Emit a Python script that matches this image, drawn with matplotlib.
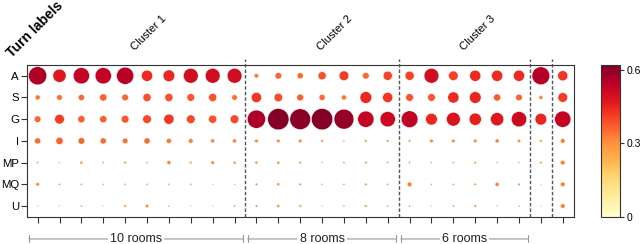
import numpy as np
import matplotlib
matplotlib.use("Agg")
import matplotlib.pyplot as plt
import matplotlib.colors as mcolors
import matplotlib.transforms as mtransforms
from matplotlib.cm import ScalarMappable

# turn label shares per room (rows), 25 rooms (columns)
rows = ["A", "S", "G", "I", "MP", "MQ", "U"]
A = [0.44, 0.23, 0.35, 0.35, 0.39, 0.165, 0.18, 0.29, 0.29, 0.29,
     0.028, 0.057, 0.049, 0.087, 0.123, 0.057, 0.11,
     0.11, 0.29, 0.12, 0.165, 0.165, 0.165, 0.42, 0.136]
S = [0.034, 0.041, 0.049, 0.067, 0.057, 0.087, 0.087, 0.077, 0.087, 0.041,
     0.136, 0.094, 0.061, 0.049, 0.034, 0.18, 0.136,
     0.077, 0.077, 0.165, 0.18, 0.067, 0.057, 0.022, 0.123]
G = [0.057, 0.123, 0.067, 0.067, 0.077, 0.098, 0.136, 0.098, 0.087, 0.098,
     0.44, 0.6, 0.57, 0.6, 0.52, 0.35, 0.31,
     0.37, 0.18, 0.25, 0.196, 0.23, 0.31, 0.18, 0.35]
I = [0.049, 0.067, 0.057, 0.049, 0.041, 0.049, 0.034, 0.028, 0.022, 0.022,
     0.017, 0.017, 0.017, 0.0085, 0.0054, 0.0085, 0.0085,
     0.0085, 0.017, 0.017, 0.017, 0.022, 0.015, 0.0085, 0.028]
MP = [0.0054, 0.003, 0.012, 0.0054, 0.0085, 0.0054, 0.022, 0.0085, 0.017, 0.012,
      0.012, 0.012, 0.0085, 0.0044, 0.0054, 0.0085, 0.0054,
      0.0054, 0.0044, 0.0054, 0.0085, 0.0044, 0.0044, 0.0085, 0.028]
MQ = [0.017, 0.0054, 0.0054, 0.0044, 0.0054, 0.0054, 0.0054, 0.0054, 0.003, 0.003,
      0.0085, 0.012, 0.0085, 0.0044, 0.0054, 0.0085, 0.0054,
      0.028, 0.0044, 0.0054, 0.0085, 0.022, 0.0085, 0.003, 0.028]
U = [0.003, 0.003, 0.0054, 0.003, 0.0085, 0.017, 0.0054, 0.003, 0.003, 0.0054,
     0.0085, 0.012, 0.0085, 0.003, 0.0054, 0.0085, 0.0054,
     0.0054, 0.003, 0.0054, 0.0085, 0.0044, 0.0054, 0.003, 0.028]

clusters = ["Cluster 1", "Cluster 2", "Cluster 3"]
cluster_cols = [(0, 9), (10, 16), (17, 22)]
room_labels = ["10 rooms", "8 rooms", "6 rooms"]
dividers = [9.5, 16.5, 22.5, 23.5]

VMAX = 0.62

plt.rcParams["font.family"] = ["Liberation Sans", "DejaVu Sans"]
plt.rcParams["font.size"] = 8.2

values = np.array([A, S, G, I, MP, MQ, U])
n_rows, n_cols = values.shape
xx, yy = np.meshgrid(np.arange(n_cols), np.arange(n_rows))

fig = plt.figure(figsize=(6.4, 2.44), dpi=100)
ax = fig.add_axes([0.0417, 0.111, 0.8547, 0.623])
cax = fig.add_axes([0.939, 0.111, 0.030, 0.623])

# dots use the upper part of the colormap so that small shares stay orange
base = plt.get_cmap("YlOrRd")
dot_cmap = mcolors.LinearSegmentedColormap.from_list("dots", base(np.linspace(0.4, 1.0, 256)))
dot_norm = mcolors.PowerNorm(gamma=0.5, vmin=0, vmax=VMAX)

ax.scatter(xx.ravel(), yy.ravel(), s=values.ravel() * 390, c=values.ravel(),
           cmap=dot_cmap, norm=dot_norm, edgecolors="white", linewidths=0.3, zorder=3)

ax.set_xlim(-0.5, n_cols - 0.5)
ax.set_ylim(n_rows - 0.5, -0.5)
ax.set_xticks(np.arange(n_cols))
ax.set_xticklabels([])
ax.set_yticks(np.arange(n_rows))
ax.set_yticklabels(rows)
ax.tick_params(axis="both", direction="out", length=4, width=0.8, color="#333333", pad=1.5)
for sp in ax.spines.values():
    sp.set_color("#333333")
    sp.set_linewidth(0.8)

trans = mtransforms.blended_transform_factory(ax.transData, ax.transAxes)
for d in dividers:
    ax.plot([d, d], [0, 1.04], transform=trans, color="#555555", lw=1.0,
            ls=(0, (2.5, 1.5)), clip_on=False, zorder=4)

for name, (c0, c1) in zip(clusters, cluster_cols):
    ax.text((c0 + c1) / 2 + 0.6, 1.21, name, transform=trans, rotation=45,
            ha="center", va="center", fontsize=8)

for name, (c0, c1) in zip(room_labels, cluster_cols):
    ax.annotate("", xy=(c0 - 0.4, -0.145), xytext=(c1 + 0.4, -0.145),
                xycoords=trans, textcoords=trans,
                arrowprops=dict(arrowstyle="|-|", color="#999999", lw=0.8,
                                mutation_scale=2.5, shrinkA=0, shrinkB=0))
    ax.text((c0 + c1) / 2, -0.145, name, transform=trans, ha="center", va="center",
            fontsize=9, color="#222222",
            bbox=dict(facecolor="white", edgecolor="none", pad=1.5))

fig.text(35 / 640, 1 - 29 / 244, "Turn labels", rotation=45, ha="center", va="center",
         fontsize=10, fontweight="bold")

cb = fig.colorbar(ScalarMappable(norm=mcolors.Normalize(0, VMAX), cmap=base), cax=cax)
cb.set_ticks([0, 0.3, 0.6])
cb.set_ticklabels(["0", "0.3", "0.6"])
cb.outline.set_edgecolor("#333333")
cb.outline.set_linewidth(0.8)
cax.tick_params(length=3, width=0.8, color="#333333", pad=1.5, labelsize=7.5)

fig.savefig("out.png", dpi=100)
